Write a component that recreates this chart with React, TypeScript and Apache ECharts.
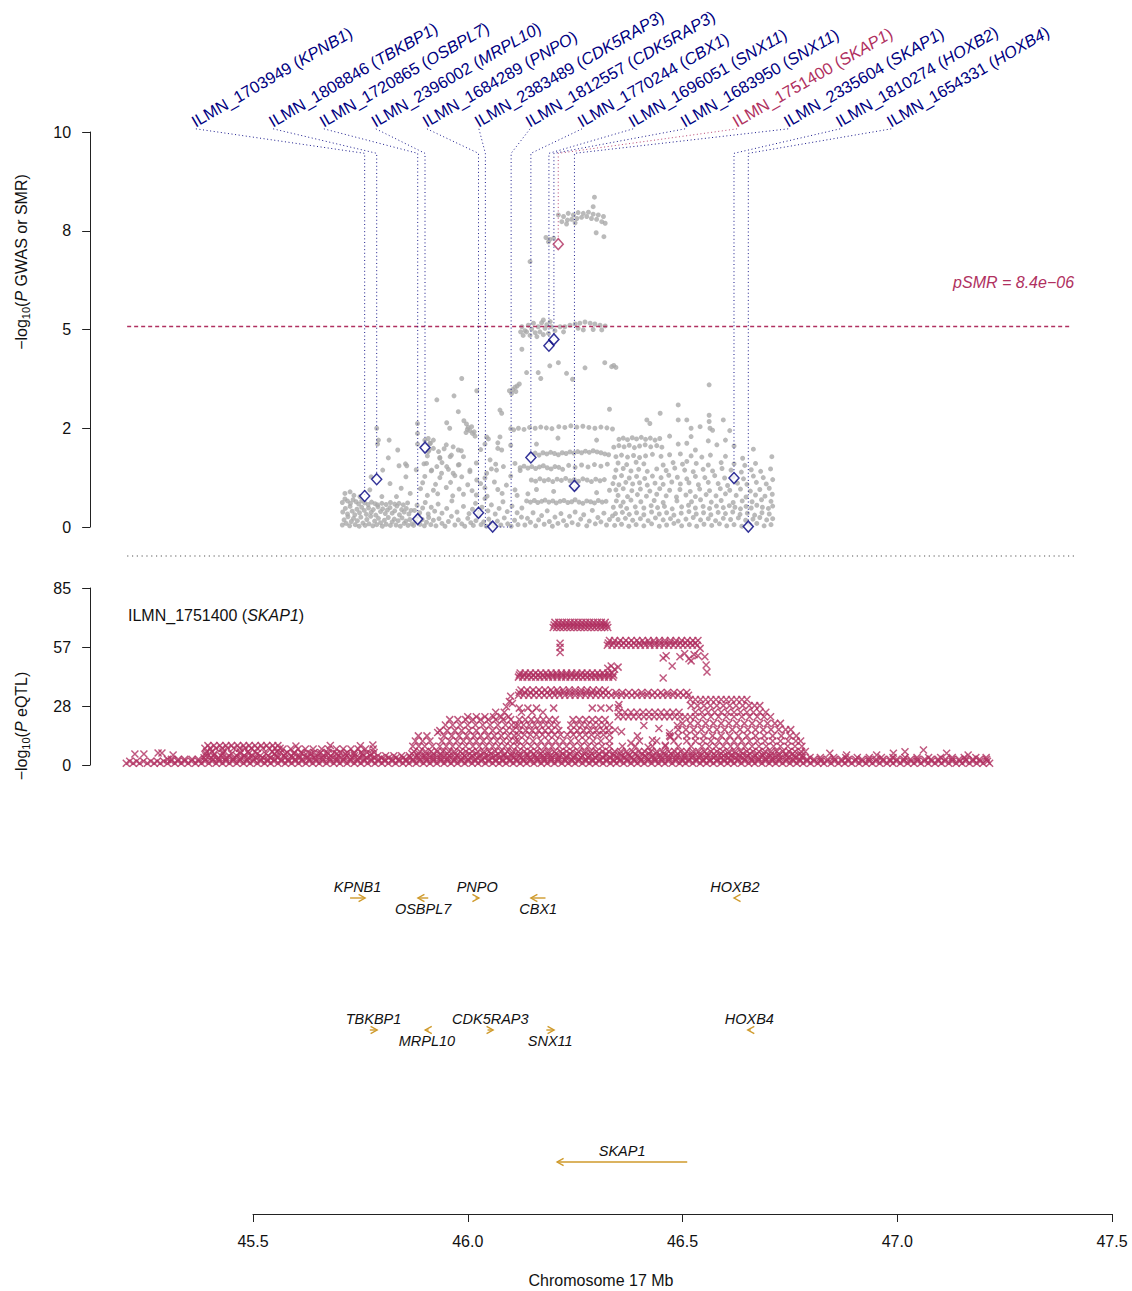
import React, { useEffect, useRef } from 'react';
import * as echarts from 'echarts';

const MAROON = '#B03060';
const NAVY = '#000080';
const GRAY = '#A9A9A9';
const GOLD = '#CF9A2B';
const FF = '"Liberation Sans", Arial, Helvetica, sans-serif';

// ---------- axis tick labels ----------
const gwasTickLabels = ['0', '2', '5', '8', '10'];
const eqtlTickLabels = ['0', '28', '57', '85'];

// ---------- SMR threshold ----------
const pSmrText = 'pSMR = 8.4e\u221206';
const smrThreshold = 5.076; // -log10(8.4e-06)
const plotExtent = [45.207, 47.407];

// ---------- probes (top labels + connectors) ----------
const probeIds = ['ILMN_1703949', 'ILMN_1808846', 'ILMN_1720865', 'ILMN_2396002', 'ILMN_1684289', 'ILMN_2383489', 'ILMN_1812557', 'ILMN_1770244', 'ILMN_1696051', 'ILMN_1683950', 'ILMN_1751400', 'ILMN_2335604', 'ILMN_1810274', 'ILMN_1654331'];
const probeGenes = ['KPNB1', 'TBKBP1', 'OSBPL7', 'MRPL10', 'PNPO', 'CDK5RAP3', 'CDK5RAP3', 'CBX1', 'SNX11', 'SNX11', 'SKAP1', 'SKAP1', 'HOXB2', 'HOXB4'];
const probeLabelX = [45.367, 45.547, 45.665, 45.786, 45.905, 46.026, 46.145, 46.266, 46.385, 46.506, 46.627, 46.746, 46.867, 46.986];
const probeLineX = [45.760, 45.788, 45.8835, 45.9005, 46.025, 46.041, 46.101, 46.147, 46.189, 46.2006, 46.2107, 46.2484, 46.6199, 46.6532];
const probeLineEnd = [0.785, 1.21, 0.2, 2.01, 0.36, 0, 0, 1.76, 4.59, 4.75, 7.16, 1.04, 1.24, 0.01];
const hitProbe = 10;
const connectorTop = 10.08;
const connectorBend = 9.46;
const baseLink = [[46.041, 0], [46.101, 0]];

// ---------- SMR diamonds ----------
const smrX = [45.760, 45.788, 45.8835, 45.9005, 46.025, 46.058, 46.147, 46.189, 46.2006, 46.2107, 46.2484, 46.6199, 46.6532];
const smrY = [0.785, 1.21, 0.2, 2.01, 0.36, 0.01, 1.76, 4.59, 4.75, 7.16, 1.04, 1.24, 0.01];
const smrHit = 9;

// ---------- GWAS points [Mb, -log10 P] ----------
const gwasLeft: [number, number][] = [
  [45.708, 0.05], [45.712, 0.18], [45.717, 0.09], [45.721, 0.26], [45.725, 0.03], [45.729, 0.14], [45.734, 0.22], [45.738, 0.06], [45.743, 0.16], [45.747, 0.02], [45.751, 0.25], [45.756, 0.1], [45.761, 0.04], [45.765, 0.19], [45.77, 0.08], [45.774, 0.27], [45.779, 0.03], [45.783, 0.15], [45.788, 0.06], [45.792, 0.22], [45.797, 0.11], [45.801, 0.02], [45.806, 0.17], [45.81, 0.07], [45.815, 0.24], [45.82, 0.04], [45.824, 0.13], [45.829, 0.2], [45.833, 0.05], [45.838, 0.16], [45.843, 0.02], [45.847, 0.23], [45.852, 0.09], [45.856, 0.15], [45.861, 0.04], [45.865, 0.19], [45.87, 0.08],
  [45.709, 0.38], [45.715, 0.47], [45.72, 0.33], [45.726, 0.52], [45.731, 0.4], [45.737, 0.31], [45.742, 0.45], [45.748, 0.36], [45.753, 0.5], [45.759, 0.42], [45.764, 0.32], [45.769, 0.48], [45.775, 0.37], [45.78, 0.44], [45.786, 0.3], [45.791, 0.51], [45.797, 0.39], [45.802, 0.46], [45.808, 0.34], [45.813, 0.43], [45.819, 0.49], [45.824, 0.35], [45.83, 0.41], [45.835, 0.53], [45.841, 0.31], [45.846, 0.44], [45.852, 0.38], [45.857, 0.47], [45.863, 0.33], [45.868, 0.42],
  [45.708, 0.62], [45.714, 0.71], [45.72, 0.66], [45.727, 0.6], [45.733, 0.69], [45.74, 0.64], [45.746, 0.58], [45.753, 0.66], [45.76, 0.61], [45.768, 0.57], [45.776, 0.63], [45.784, 0.59], [45.79, 0.56], [45.8, 0.6], [45.81, 0.57], [45.82, 0.62], [45.83, 0.58], [45.84, 0.6], [45.85, 0.56], [45.86, 0.61],
  [45.714, 0.85], [45.726, 0.89], [45.749, 0.77], [45.772, 0.94], [45.8, 0.77], [45.819, 1.1], [45.834, 0.77], [45.866, 0.85], [45.815, 1.75], [45.84, 1.55], [45.858, 1.55], [45.856, 1.27], [45.788, 2.5], [45.817, 2.2], [45.792, 2.2], [45.775, 1.27], [45.802, 1.44], [45.837, 1.95], [45.855, 1.6], [45.79, 2.1], [45.845, 0.98], [45.735, 0.8],
];

const gwasMiddle: [number, number][] = [
  [45.874, 0.04], [45.879, 0.15], [45.884, 0.26], [45.889, 0.07], [45.894, 0.19], [45.899, 0.03], [45.904, 0.12], [45.909, 0.24], [45.914, 0.06], [45.92, 0.17], [45.926, 0.03], [45.933, 0.21], [45.94, 0.09], [45.947, 0.02], [45.955, 0.14], [45.962, 0.27], [45.97, 0.05], [45.978, 0.18], [45.986, 0.08], [45.993, 0.02], [46.0, 0.22], [46.007, 0.11], [46.013, 0.04], [46.019, 0.16], [46.025, 0.28], [46.031, 0.06], [46.037, 0.13], [46.043, 0.02], [46.049, 0.2], [46.055, 0.09], [46.062, 0.03], [46.069, 0.15], [46.077, 0.05], [46.085, 0.23], [46.093, 0.08], [46.101, 0.02], [46.109, 0.17], [46.117, 0.06], [46.125, 0.25],
  [45.876, 0.42], [45.882, 0.55], [45.888, 0.36], [45.895, 0.48], [45.901, 0.62], [45.908, 0.33], [45.915, 0.5], [45.923, 0.4], [45.931, 0.58], [45.94, 0.35], [45.951, 0.47], [45.963, 0.66], [45.975, 0.38], [45.99, 0.52], [46.003, 0.34], [46.011, 0.45], [46.018, 0.6], [46.026, 0.37], [46.033, 0.5], [46.04, 0.72], [46.047, 0.41], [46.055, 0.56], [46.064, 0.33], [46.073, 0.47], [46.082, 0.64], [46.092, 0.39], [46.103, 0.53], [46.115, 0.36], [46.126, 0.48],
  [45.906, 0.8], [45.93, 0.84], [45.965, 0.79], [45.99, 0.83], [46.02, 0.81], [46.045, 0.78], [46.08, 0.85], [46.115, 0.8], [45.89, 0.97], [45.92, 0.93], [45.95, 1.0], [45.98, 0.96], [46.01, 0.92], [46.04, 0.99], [46.07, 0.95], [46.11, 0.94], [45.895, 1.12], [45.925, 1.08], [45.96, 1.13], [46.0, 1.07], [46.03, 1.1], [46.062, 1.14], [46.09, 1.06],
  [45.9, 1.28], [45.935, 1.25], [45.97, 1.3], [46.04, 1.24], [46.1, 1.29], [45.88, 1.45], [45.915, 1.42], [45.955, 1.46], [46.005, 1.4], [46.055, 1.47], [46.122, 1.43], [45.898, 1.6], [45.94, 1.63], [45.98, 1.58], [46.02, 1.62], [46.065, 1.59], [46.11, 1.61], [45.906, 1.8], [45.935, 1.76], [45.962, 1.82], [45.91, 1.95], [45.945, 1.98], [45.985, 1.93], [46.03, 1.96], [46.07, 1.99], [45.913, 2.12], [45.95, 2.08], [46.04, 2.1], [46.07, 2.13], [46.1, 2.07], [45.908, 2.24], [45.92, 2.2], [46.048, 2.23], [45.958, 2.5],
  [45.986, 3.76], [45.928, 3.22], [45.968, 3.32], [46.021, 3.45], [45.978, 2.92], [46.075, 2.96], [46.079, 2.88], [45.951, 2.64], [45.883, 2.62], [45.883, 2.37], [45.883, 2.1],
  [45.991, 2.69], [45.997, 2.61], [46.001, 2.52], [46.005, 2.44], [46.011, 2.37], [46.017, 2.30], [45.999, 2.47], [46.009, 2.54], [46.015, 2.41], [45.996, 2.39],
  [45.9, 2.2], [45.912, 2.12], [45.92, 1.99], [45.932, 1.91], [45.908, 1.91], [45.935, 1.74], [45.966, 2.03], [45.978, 1.95], [45.959, 1.78], [45.99, 1.78], [45.978, 1.57], [45.951, 1.53], [45.928, 1.53], [45.904, 1.61], [45.916, 1.44], [45.939, 1.36], [45.966, 1.36], [45.986, 1.27], [46.005, 1.44], [46.021, 1.19], [46.044, 1.36], [46.067, 1.44], [46.083, 1.53], [46.052, 1.70], [46.079, 1.95], [46.044, 2.28], [46.075, 2.28],
];

const gwasCore: [number, number][] = [
  [46.133, 0.05], [46.139, 0.22], [46.146, 0.12], [46.152, 0.36], [46.158, 0.03], [46.165, 0.18], [46.172, 0.29], [46.178, 0.07], [46.185, 0.41], [46.19, 0.14], [46.197, 0.02], [46.203, 0.25], [46.21, 0.09], [46.217, 0.34], [46.223, 0.16], [46.23, 0.04], [46.237, 0.27], [46.243, 0.11], [46.25, 0.38], [46.257, 0.06], [46.263, 0.2], [46.27, 0.31], [46.277, 0.03], [46.283, 0.15], [46.29, 0.42], [46.297, 0.08], [46.303, 0.24], [46.31, 0.13], [46.317, 0.35], [46.323, 0.05], [46.33, 0.19], [46.337, 0.28],
  [46.137, 0.66], [46.146, 0.63], [46.155, 0.67], [46.163, 0.62], [46.172, 0.65], [46.18, 0.68], [46.189, 0.63], [46.198, 0.66], [46.206, 0.61], [46.215, 0.65], [46.224, 0.67], [46.233, 0.62], [46.242, 0.64], [46.25, 0.69], [46.259, 0.63], [46.268, 0.6], [46.277, 0.66], [46.286, 0.64], [46.295, 0.61], [46.304, 0.67], [46.313, 0.63], [46.322, 0.65],
  [46.14, 0.84], [46.16, 0.95], [46.2, 0.9], [46.25, 0.97], [46.3, 0.87], [46.33, 0.93],
  [46.148, 1.19], [46.158, 1.16], [46.168, 1.22], [46.178, 1.17], [46.188, 1.2], [46.198, 1.15], [46.208, 1.21], [46.218, 1.18], [46.228, 1.23], [46.238, 1.17], [46.248, 1.2], [46.258, 1.16], [46.268, 1.22], [46.278, 1.19], [46.288, 1.15], [46.298, 1.21], [46.308, 1.17], [46.318, 1.2],
  [46.122, 1.5], [46.131, 1.54], [46.14, 1.49], [46.149, 1.53], [46.158, 1.48], [46.167, 1.52], [46.176, 1.55], [46.185, 1.5], [46.194, 1.47], [46.203, 1.53], [46.212, 1.51], [46.221, 1.46], [46.235, 1.56], [46.25, 1.51], [46.265, 1.57], [46.28, 1.52], [46.295, 1.58], [46.31, 1.54], [46.325, 1.59],
  [46.148, 1.84], [46.157, 1.87], [46.166, 1.82], [46.175, 1.88], [46.184, 1.85], [46.193, 1.89], [46.202, 1.86], [46.211, 1.83], [46.22, 1.88], [46.229, 1.86], [46.238, 1.9], [46.247, 1.87], [46.256, 1.91], [46.265, 1.88], [46.274, 1.92], [46.283, 1.89], [46.292, 1.93], [46.301, 1.9], [46.31, 1.88], [46.319, 1.85], [46.328, 1.83],
  [46.1, 2.49], [46.107, 2.46], [46.118, 2.5], [46.131, 2.47], [46.144, 2.52], [46.157, 2.5], [46.17, 2.53], [46.183, 2.51], [46.196, 2.49], [46.212, 2.54], [46.226, 2.52], [46.24, 2.56], [46.254, 2.53], [46.268, 2.55], [46.282, 2.52], [46.296, 2.5], [46.31, 2.53], [46.324, 2.51], [46.337, 2.48],
  [46.16, 2.1], [46.21, 2.25], [46.3, 2.2],
  [46.126, 5.07], [46.133, 4.97], [46.141, 5.11], [46.149, 5.01], [46.157, 4.92], [46.164, 5.07], [46.172, 5.17], [46.180, 5.03], [46.188, 4.90], [46.195, 5.07], [46.203, 4.97], [46.129, 4.85], [46.145, 4.85], [46.161, 4.82], [46.176, 4.87], [46.137, 4.94], [46.153, 5.16], [46.168, 4.94], [46.184, 5.12], [46.123, 4.94], [46.192, 5.20], [46.176, 5.24],
  [46.226, 5.07], [46.238, 5.11], [46.250, 5.14], [46.261, 5.16], [46.273, 5.19], [46.285, 5.16], [46.296, 5.14], [46.308, 5.11], [46.320, 5.09], [46.269, 4.99], [46.292, 5.00], [46.312, 4.99], [46.223, 4.94], [46.257, 5.03], [46.215, 5.07],
  [46.126, 4.5], [46.211, 4.16], [46.191, 4.08], [46.137, 3.91], [46.164, 3.91], [46.170, 3.76], [46.230, 3.89], [46.244, 3.74], [46.273, 4.03], [46.319, 4.16], [46.335, 4.06], [46.340, 4.09], [46.345, 4.04], [46.145, 6.72],
  [46.097, 3.45], [46.105, 3.48], [46.110, 3.54], [46.115, 3.57], [46.120, 3.62], [46.102, 3.38], [46.112, 3.43],
  [46.211, 7.90], [46.223, 7.86], [46.234, 7.94], [46.246, 7.90], [46.257, 7.96], [46.269, 7.94], [46.281, 7.97], [46.292, 7.92], [46.304, 7.90], [46.316, 7.86], [46.320, 7.69], [46.219, 7.73], [46.232, 7.77], [46.242, 7.79], [46.254, 7.81], [46.265, 7.84], [46.277, 7.86], [46.288, 7.81], [46.300, 7.79], [46.312, 7.73], [46.230, 7.67], [46.250, 7.70],
  [46.295, 8.35], [46.292, 8.11], [46.299, 7.45], [46.317, 7.35], [46.182, 7.33], [46.191, 7.28], [46.200, 7.31], [46.188, 7.22],
];

const gwasRight: [number, number][] = [
  [46.352, 2.22], [46.362, 2.25], [46.372, 2.21], [46.383, 2.26], [46.393, 2.23], [46.404, 2.27], [46.414, 2.22], [46.425, 2.25], [46.436, 2.2], [46.447, 2.24],
  [46.34, 2.02], [46.352, 2.06], [46.364, 2.03], [46.376, 2.07], [46.388, 2.01], [46.4, 2.05], [46.413, 2.08], [46.426, 2.03], [46.44, 2.06], [46.452, 2.02], [46.49, 2.1], [46.51, 2.12], [46.58, 2.08], [46.62, 2.05],
  [46.345, 1.78], [46.358, 1.82], [46.372, 1.77], [46.386, 1.81], [46.4, 1.76], [46.414, 1.8], [46.43, 1.84], [46.45, 1.79], [46.47, 1.83], [46.495, 1.85], [46.52, 1.8], [46.545, 1.77], [46.565, 1.82], [46.6, 1.79], [46.64, 1.74],
  [46.35, 1.62], [46.37, 1.58], [46.392, 1.64], [46.41, 1.6], [46.455, 1.57], [46.478, 1.63], [46.5, 1.59], [46.51, 1.66], [46.532, 1.61], [46.56, 1.57], [46.59, 1.63], [46.62, 1.6], [46.645, 1.56], [46.67, 1.61],
  [46.345, 1.44], [46.362, 1.48], [46.38, 1.42], [46.398, 1.46], [46.418, 1.41], [46.44, 1.47], [46.462, 1.43], [46.482, 1.49], [46.505, 1.44], [46.525, 1.4], [46.548, 1.46], [46.57, 1.42], [46.592, 1.48], [46.613, 1.44], [46.637, 1.39], [46.66, 1.45], [46.682, 1.41], [46.705, 1.47],
  [46.342, 1.26], [46.358, 1.3], [46.376, 1.24], [46.393, 1.28], [46.412, 1.23], [46.43, 1.29], [46.45, 1.25], [46.468, 1.31], [46.488, 1.26], [46.51, 1.22], [46.53, 1.28], [46.552, 1.25], [46.575, 1.3], [46.598, 1.24], [46.618, 1.27], [46.642, 1.22], [46.665, 1.29], [46.688, 1.25], [46.71, 1.2],
  [46.338, 1.1], [46.352, 1.07], [46.368, 1.13], [46.384, 1.09], [46.4, 1.12], [46.418, 1.06], [46.436, 1.11], [46.455, 1.08], [46.475, 1.14], [46.495, 1.09], [46.515, 1.12], [46.537, 1.07], [46.56, 1.13], [46.583, 1.1], [46.605, 1.05], [46.628, 1.11], [46.65, 1.08], [46.672, 1.13], [46.695, 1.09],
  [46.345, 0.94], [46.362, 0.97], [46.382, 0.92], [46.402, 0.96], [46.424, 0.91], [46.447, 0.97], [46.47, 0.93], [46.494, 0.95], [46.518, 0.9], [46.54, 0.96], [46.563, 0.92], [46.588, 0.97], [46.61, 0.93], [46.635, 0.96], [46.658, 0.91], [46.68, 0.95], [46.702, 0.98],
  [46.35, 0.8], [46.372, 0.77], [46.395, 0.82], [46.416, 0.78], [46.44, 0.83], [46.462, 0.79], [46.486, 0.76], [46.508, 0.81], [46.53, 0.77], [46.555, 0.82], [46.578, 0.79], [46.6, 0.84], [46.625, 0.8], [46.648, 0.76], [46.67, 0.81], [46.692, 0.78], [46.709, 0.83],
  [46.346, 0.66], [46.362, 0.63], [46.38, 0.68], [46.403, 0.64], [46.434, 0.67], [46.455, 0.62], [46.487, 0.66], [46.521, 0.64], [46.542, 0.69], [46.567, 0.63], [46.59, 0.67], [46.618, 0.62], [46.639, 0.66], [46.662, 0.64], [46.684, 0.69], [46.706, 0.65],
  [46.339, 0.5], [46.356, 0.53], [46.37, 0.47], [46.39, 0.51], [46.41, 0.48], [46.427, 0.54], [46.442, 0.49], [46.458, 0.52], [46.476, 0.46], [46.498, 0.51], [46.514, 0.55], [46.53, 0.48], [46.548, 0.52], [46.563, 0.47], [46.579, 0.53], [46.595, 0.49], [46.609, 0.54], [46.622, 0.5], [46.635, 0.46], [46.648, 0.52], [46.66, 0.48], [46.673, 0.55], [46.686, 0.5], [46.7, 0.47], [46.71, 0.53],
  [46.344, 0.34], [46.36, 0.37], [46.376, 0.32], [46.393, 0.36], [46.41, 0.31], [46.428, 0.38], [46.446, 0.33], [46.463, 0.36], [46.48, 0.3], [46.497, 0.35], [46.515, 0.39], [46.532, 0.33], [46.549, 0.36], [46.566, 0.31], [46.583, 0.37], [46.6, 0.34], [46.617, 0.38], [46.634, 0.32], [46.651, 0.35], [46.668, 0.3], [46.685, 0.36], [46.702, 0.33],
  [46.35, 0.19], [46.367, 0.22], [46.384, 0.17], [46.402, 0.21], [46.42, 0.16], [46.437, 0.23], [46.455, 0.18], [46.472, 0.21], [46.49, 0.15], [46.508, 0.2], [46.525, 0.24], [46.542, 0.18], [46.56, 0.21], [46.577, 0.16], [46.595, 0.22], [46.612, 0.19], [46.63, 0.23], [46.647, 0.17], [46.664, 0.2], [46.68, 0.24], [46.696, 0.18], [46.71, 0.21],
  [46.342, 0.04], [46.358, 0.07], [46.375, 0.02], [46.392, 0.06], [46.41, 0.03], [46.428, 0.08], [46.446, 0.02], [46.463, 0.05], [46.48, 0.09], [46.498, 0.03], [46.516, 0.06], [46.533, 0.02], [46.55, 0.07], [46.568, 0.04], [46.586, 0.08], [46.603, 0.03], [46.62, 0.06], [46.638, 0.02], [46.656, 0.05], [46.673, 0.09], [46.69, 0.03], [46.706, 0.06],
  [46.33, 2.98], [46.448, 2.88], [46.49, 3.09], [46.562, 3.6], [46.562, 2.83], [46.562, 2.67], [46.595, 2.71], [46.541, 2.54], [46.564, 2.5], [46.417, 2.71], [46.424, 2.62], [46.51, 2.71], [46.49, 2.71], [46.665, 1.97], [46.708, 1.78], [46.61, 2.44], [46.52, 2.5], [46.57, 2.45], [46.6, 2.2], [46.56, 2.18], [46.53, 1.95], [46.47, 2.3], [46.52, 2.29],
];

// ---------- eQTL points: rows [value, positions(Mb)] ----------
const eqtlRows: [number, number[]][] = [
  [0.8, [45.205, 45.221, 45.236, 45.254, 45.270, 45.284, 45.301, 45.318, 45.333, 45.349, 45.366, 45.380, 45.397, 45.414, 45.429, 45.445, 45.462, 45.478, 45.493, 45.510, 45.527, 45.541, 45.558, 45.575, 45.590, 45.606, 45.623, 45.639, 45.654, 45.671, 45.688, 45.702, 45.719, 45.736, 45.751, 45.767, 45.784, 45.800, 45.815, 45.832, 45.849, 45.863, 45.880, 45.897, 45.912, 45.928, 45.945, 45.961, 45.976, 45.993, 46.010, 46.024, 46.041, 46.058, 46.073, 46.089, 46.106, 46.122, 46.137, 46.154, 46.171, 46.185, 46.202, 46.219, 46.234, 46.250, 46.267, 46.283, 46.298, 46.315, 46.332, 46.346, 46.363, 46.380, 46.395, 46.411, 46.428, 46.444, 46.459, 46.476, 46.493, 46.507, 46.524, 46.541, 46.556, 46.572, 46.589, 46.605, 46.620, 46.637, 46.654, 46.668, 46.685, 46.702, 46.717, 46.733, 46.750, 46.766, 46.781, 46.798, 46.815, 46.829, 46.846, 46.863, 46.878, 46.894, 46.911, 46.927, 46.942, 46.959, 46.976, 46.990, 47.007, 47.024, 47.039, 47.055, 47.072, 47.088, 47.103, 47.120, 47.137, 47.151, 47.168, 47.185, 47.200, 47.215]],
  [1.8, [45.213, 45.229, 45.245, 45.262, 45.277, 45.292, 45.309, 45.325, 45.341, 45.357, 45.373, 45.388, 45.405, 45.421, 45.437, 45.453, 45.469, 45.486, 45.501, 45.518, 45.534, 45.549, 45.566, 45.582, 45.598, 45.614, 45.631, 45.647, 45.662, 45.679, 45.695, 45.710, 45.727, 45.743, 45.759, 45.776, 45.792, 45.807, 45.824, 45.840, 45.856, 45.872, 45.888, 45.904, 45.920, 45.937, 45.953, 45.968, 45.985, 46.001, 46.017, 46.032, 46.049, 46.065, 46.081, 46.098, 46.114, 46.130, 46.145, 46.162, 46.178, 46.194, 46.210, 46.227, 46.243, 46.258, 46.275, 46.291, 46.306, 46.323, 46.340, 46.354, 46.371, 46.388, 46.403, 46.419, 46.436, 46.452, 46.467, 46.484, 46.500, 46.515, 46.532, 46.548, 46.564, 46.580, 46.597, 46.612, 46.628, 46.645, 46.662, 46.676, 46.693, 46.709, 46.725, 46.741, 46.758, 46.774, 46.790, 46.806, 46.822, 46.837, 46.854, 46.871, 46.886, 46.902, 46.919, 46.935, 46.950, 46.967, 46.984, 46.998, 47.015, 47.032, 47.047, 47.063, 47.080, 47.096, 47.111, 47.128, 47.145, 47.159, 47.176, 47.193, 47.210]],
  [2.7, [45.301, 45.310, 45.326, 45.341, 45.358, 45.373, 45.389, 45.406, 45.421, 45.437, 45.454, 45.470, 45.486, 45.502, 45.518, 45.534, 45.550, 45.566, 45.582, 45.598, 45.614, 45.631, 45.646, 45.662, 45.679, 45.695, 45.711, 45.727, 45.743, 45.759, 45.775, 45.792, 45.807, 45.824, 45.840, 45.856, 45.872, 45.888, 45.904, 45.920, 45.937, 45.952, 45.969, 45.985, 46.001, 46.017, 46.033, 46.049, 46.065, 46.081, 46.098, 46.113, 46.129, 46.146, 46.162, 46.178, 46.194, 46.210, 46.226, 46.242, 46.259, 46.274, 46.290, 46.307, 46.323, 46.339, 46.355, 46.371, 46.387, 46.403, 46.420, 46.435, 46.451, 46.468, 46.484, 46.500, 46.516, 46.532, 46.548, 46.564, 46.581, 46.596, 46.612, 46.629, 46.645, 46.661, 46.677, 46.693, 46.709, 46.725, 46.742, 46.757, 46.773, 46.790, 46.806, 46.822, 46.838, 46.854, 46.870, 46.886, 46.903, 46.918, 46.934, 46.951, 46.967, 46.983, 46.999, 47.015, 47.031, 47.047, 47.064, 47.079, 47.095, 47.112, 47.128, 47.144, 47.160, 47.176, 47.192, 47.208]],
  [3.5, [45.386, 45.403, 45.420, 45.437, 45.455, 45.472, 45.489, 45.506, 45.523, 45.541, 45.558, 45.575, 45.592, 45.609, 45.627, 45.644, 45.661, 45.678, 45.695, 45.713, 45.730, 45.747, 45.764, 45.781, 45.799, 45.816, 45.833, 45.850, 45.867, 45.885, 45.902, 45.919, 45.936, 45.953, 45.971, 45.988, 46.005, 46.022, 46.039, 46.057, 46.074, 46.091, 46.108, 46.125, 46.143, 46.160, 46.177, 46.194, 46.211, 46.229, 46.246, 46.263, 46.280, 46.297, 46.315, 46.332, 46.349, 46.366, 46.383, 46.401, 46.418, 46.435, 46.452, 46.469, 46.487, 46.504, 46.521, 46.538, 46.555, 46.573, 46.590, 46.607, 46.624, 46.641, 46.659, 46.676, 46.693, 46.710, 46.727, 46.745, 46.762, 46.779]],
  [4.4, [45.390, 45.408, 45.425, 45.444, 45.462, 45.480, 45.499, 45.517, 45.535, 45.553, 45.572, 45.590, 45.608, 45.627, 45.645, 45.663, 45.681, 45.700, 45.718, 45.736, 45.755, 45.773, 45.791, 45.809, 45.828, 45.846, 45.864, 45.883, 45.901, 45.919, 45.937, 45.956, 45.974, 45.992, 46.011, 46.029, 46.047, 46.065, 46.084, 46.102, 46.120, 46.139, 46.157, 46.175, 46.193, 46.212, 46.230, 46.248, 46.267, 46.285, 46.303, 46.321, 46.340, 46.358, 46.376, 46.395, 46.413, 46.431, 46.449, 46.468, 46.486, 46.504, 46.523, 46.541, 46.559, 46.577, 46.596, 46.614, 46.632, 46.651, 46.669, 46.687, 46.705, 46.724, 46.742, 46.760, 46.779]],
  [3.6, [46.797, 46.821, 46.852, 46.880, 46.907, 46.935, 46.963, 46.990, 47.018, 47.046, 47.073, 47.101, 47.128, 47.156, 47.183, 47.207]],
  [5.4, [45.390, 45.410, 45.430, 45.450, 45.470, 45.490, 45.510, 45.530, 45.550, 45.575, 45.595, 45.615, 45.635, 45.655, 45.675, 45.695, 45.715, 45.735, 45.755, 45.775, 45.870, 45.886, 45.903, 45.920, 45.937, 45.953, 45.970, 45.987, 46.004, 46.020, 46.037, 46.054, 46.071, 46.087, 46.104, 46.121, 46.138, 46.154, 46.171, 46.188, 46.205, 46.221, 46.238, 46.255, 46.272, 46.288, 46.305, 46.322, 46.339, 46.355, 46.372, 46.389, 46.406, 46.422, 46.439, 46.456, 46.473, 46.489, 46.506, 46.523, 46.540, 46.556, 46.573, 46.590, 46.607, 46.623, 46.640, 46.657, 46.674, 46.690, 46.707, 46.724, 46.741, 46.757, 46.774]],
  [6.3, [45.392, 45.404, 45.430, 45.470, 45.488, 45.505, 45.545, 45.556]],
  [8.0, [45.388, 45.400, 45.414, 45.428, 45.441, 45.455, 45.469, 45.482, 45.496, 45.510, 45.523, 45.537, 45.551, 45.563]],
  [9.3, [45.395, 45.409, 45.423, 45.437, 45.450, 45.464, 45.478, 45.491, 45.505, 45.519, 45.532, 45.546, 45.558]],
  [6.0, [45.565, 45.580, 45.596, 45.611, 45.627, 45.642, 45.658, 45.673, 45.689, 45.704, 45.720, 45.735, 45.751, 45.766, 45.782]],
  [7.7, [45.570, 45.588, 45.605, 45.622, 45.640, 45.660, 45.676, 45.694, 45.710, 45.728, 45.745, 45.762, 45.780]],
  [6.5, [45.875, 45.888, 45.902, 45.915, 45.929, 45.942, 45.956, 45.969, 45.983, 45.996, 46.010, 46.023, 46.037, 46.050, 46.064, 46.078, 46.092, 46.105, 46.118, 46.132, 46.146, 46.160, 46.174, 46.188, 46.202, 46.216, 46.230, 46.244, 46.258, 46.272, 46.286, 46.300, 46.314, 46.328, 46.342, 46.356, 46.370, 46.384, 46.398, 46.412, 46.426, 46.440, 46.454, 46.468, 46.482, 46.496, 46.510, 46.524, 46.538, 46.552, 46.566, 46.580, 46.594, 46.608, 46.622, 46.636, 46.650, 46.664, 46.678, 46.692, 46.706, 46.720, 46.734, 46.748, 46.762, 46.776, 46.786]],
  [9.0, [45.872, 45.886, 45.900, 45.918, 45.935, 45.950, 45.965, 45.980, 45.995, 46.012, 46.027, 46.042, 46.058, 46.072, 46.087, 46.100, 46.115, 46.130, 46.147, 46.163, 46.180, 46.196, 46.213, 46.230, 46.246, 46.263, 46.280, 46.296, 46.313, 46.330, 46.360, 46.390, 46.430, 46.460, 46.490, 46.520, 46.545, 46.562, 46.578, 46.595, 46.612, 46.628, 46.645, 46.662, 46.678, 46.695, 46.712, 46.728, 46.745, 46.762, 46.778]],
  [11.5, [45.878, 45.895, 45.912, 45.940, 45.958, 45.975, 45.990, 46.005, 46.020, 46.036, 46.052, 46.068, 46.083, 46.098, 46.112, 46.118, 46.135, 46.152, 46.170, 46.188, 46.205, 46.222, 46.240, 46.258, 46.275, 46.292, 46.310, 46.330, 46.400, 46.440, 46.480, 46.510, 46.530, 46.548, 46.566, 46.584, 46.602, 46.620, 46.638, 46.656, 46.674, 46.692, 46.710, 46.728, 46.746, 46.764, 46.775]],
  [14.0, [45.885, 45.905, 45.945, 45.963, 45.980, 45.998, 46.015, 46.030, 46.047, 46.062, 46.078, 46.094, 46.108, 46.470, 46.490, 46.510, 46.530, 46.550, 46.570, 46.590, 46.610, 46.630, 46.650, 46.670, 46.690, 46.710, 46.730, 46.750, 46.765]],
  [14.5, [46.118, 46.132, 46.146, 46.160, 46.174, 46.188, 46.202, 46.216, 46.232, 46.246, 46.260, 46.274, 46.288, 46.302, 46.316, 46.330]],
  [16.5, [45.935, 45.952, 45.970, 45.986, 46.003, 46.020, 46.040, 46.058, 46.075, 46.090, 46.105, 46.120, 46.135, 46.150, 46.165, 46.180, 46.195, 46.212, 46.240, 46.255, 46.270, 46.285, 46.300, 46.315, 46.328]],
  [17.0, [46.490, 46.508, 46.526, 46.544, 46.562, 46.580, 46.598, 46.616, 46.634, 46.652, 46.670, 46.688, 46.706, 46.724, 46.740, 46.752]],
  [19.2, [45.948, 45.965, 45.982, 46.000, 46.018, 46.035, 46.052, 46.070, 46.088, 46.102, 46.112, 46.118, 46.130, 46.143, 46.156, 46.169, 46.182, 46.195, 46.208, 46.240, 46.253, 46.266, 46.279, 46.292, 46.305, 46.318, 46.330]],
  [20.0, [46.500, 46.518, 46.536, 46.554, 46.572, 46.590, 46.608, 46.626, 46.644, 46.662, 46.680, 46.698, 46.715, 46.728]],
  [21.8, [45.958, 45.977, 45.995, 46.012, 46.030, 46.048, 46.065, 46.082, 46.100, 46.120, 46.134, 46.148, 46.162, 46.176, 46.190, 46.204, 46.245, 46.260, 46.275, 46.290, 46.305, 46.320]],
  [23.2, [46.000, 46.020, 46.040, 46.060, 46.078, 46.095, 46.350, 46.362, 46.374, 46.386, 46.398, 46.410, 46.422, 46.434, 46.446, 46.458, 46.470, 46.482, 46.494, 46.506, 46.518, 46.530, 46.548, 46.566, 46.584, 46.602, 46.620, 46.638, 46.656, 46.674, 46.690, 46.705]],
  [25.3, [46.065, 46.085, 46.125, 46.150, 46.175, 46.352, 46.366, 46.380, 46.394, 46.408, 46.422, 46.436, 46.450, 46.464, 46.478, 46.492, 46.530, 46.545, 46.560, 46.575, 46.590, 46.605, 46.620, 46.635, 46.650, 46.665, 46.680, 46.694]],
  [27.3, [46.120, 46.140, 46.160, 46.200, 46.290, 46.310, 46.330]],
  [28.5, [46.520, 46.535, 46.550, 46.565, 46.580, 46.595, 46.610, 46.625, 46.640, 46.655, 46.668, 46.680]],
  [31.5, [46.518, 46.530, 46.542, 46.554, 46.566, 46.578, 46.590, 46.602, 46.614, 46.626, 46.638, 46.650]],
  [33.5, [46.118, 46.130, 46.142, 46.154, 46.166, 46.178, 46.190, 46.202, 46.214, 46.226, 46.238, 46.250, 46.262, 46.274, 46.286, 46.298, 46.310, 46.322, 46.334, 46.346, 46.358, 46.370, 46.382, 46.394, 46.406, 46.418, 46.430, 46.442, 46.454, 46.466, 46.478, 46.490, 46.502, 46.514]],
  [34.8, [46.120, 46.133, 46.146, 46.159, 46.172, 46.185, 46.198, 46.211, 46.224, 46.237, 46.250, 46.263, 46.276, 46.289, 46.302, 46.315, 46.328, 46.345, 46.360, 46.375, 46.390, 46.405, 46.420, 46.435, 46.450, 46.465, 46.480, 46.495, 46.510]],
  [36.0, [46.124, 46.138, 46.152, 46.166, 46.180, 46.194, 46.208, 46.222, 46.236, 46.250, 46.264, 46.278, 46.292, 46.306, 46.320]],
  [42.2, [46.118, 46.128, 46.138, 46.148, 46.158, 46.168, 46.178, 46.188, 46.198, 46.208, 46.218, 46.228, 46.238, 46.248, 46.258, 46.268, 46.278, 46.288, 46.298, 46.308, 46.318, 46.328, 46.338]],
  [43.2, [46.120, 46.131, 46.142, 46.153, 46.164, 46.175, 46.186, 46.197, 46.208, 46.219, 46.230, 46.241, 46.252, 46.263, 46.274, 46.285, 46.296, 46.307, 46.318, 46.329, 46.340]],
  [44.2, [46.122, 46.134, 46.146, 46.158, 46.170, 46.182, 46.194, 46.206, 46.218, 46.230, 46.242, 46.254, 46.266, 46.278, 46.290, 46.302, 46.314, 46.326, 46.336]],
  [57.5, [46.325, 46.336, 46.347, 46.358, 46.369, 46.380, 46.391, 46.402, 46.413, 46.424, 46.435, 46.446, 46.457, 46.468, 46.479, 46.490, 46.501, 46.512, 46.523, 46.534]],
  [58.6, [46.327, 46.339, 46.351, 46.363, 46.375, 46.387, 46.399, 46.411, 46.423, 46.435, 46.447, 46.459, 46.471, 46.483, 46.495, 46.507, 46.519, 46.530]],
  [59.8, [46.330, 46.342, 46.355, 46.368, 46.381, 46.394, 46.407, 46.420, 46.433, 46.446, 46.459, 46.472, 46.485, 46.498, 46.511, 46.524, 46.536]],
  [66.0, [46.199, 46.207, 46.215, 46.223, 46.231, 46.239, 46.247, 46.255, 46.263, 46.271, 46.279, 46.287, 46.295, 46.303, 46.311, 46.319, 46.326]],
  [67.2, [46.201, 46.210, 46.219, 46.228, 46.237, 46.246, 46.255, 46.264, 46.273, 46.282, 46.291, 46.300, 46.309, 46.318, 46.324]],
  [68.5, [46.203, 46.212, 46.221, 46.230, 46.239, 46.248, 46.257, 46.266, 46.275, 46.284, 46.293, 46.302, 46.311, 46.320]],
];

// ---------- eQTL individual points [Mb, -log10 P] ----------
const eqtlScatter: [number, number][] = [
  [45.225, 5.3], [45.246, 5.3], [45.279, 5.8], [45.288, 5.8], [45.314, 4.8],
  [45.600, 9.1], [45.680, 9.4], [45.750, 9.2], [45.779, 9.6], [45.930, 15.6],
  [46.090, 28.0], [46.097, 30.5], [46.100, 33.0], [46.104, 29.5],
  [46.215, 54.0], [46.215, 56.5], [46.215, 58.5],
  [46.326, 46.5], [46.334, 47.5], [46.342, 46.0], [46.350, 47.0], [46.352, 29.0], [46.350, 27.5], [46.343, 16.8],
  [46.494, 52.0], [46.505, 53.5], [46.515, 51.0], [46.527, 53.0], [46.536, 52.5], [46.520, 50.0], [46.455, 51.4], [46.476, 47.5], [46.455, 41.8], [46.541, 56.0], [46.552, 52.0], [46.555, 48.0], [46.557, 44.7], [46.462, 52.5],
  [46.358, 16.0], [46.380, 10.5], [46.395, 14.0], [46.410, 19.0], [46.430, 12.0], [46.445, 17.5], [46.460, 9.5], [46.472, 13.5], [46.488, 19.0], [46.470, 15.5], [46.420, 8.5],
  [46.952, 4.8], [46.991, 5.6], [47.018, 6.4], [47.061, 7.2], [47.115, 5.6], [47.165, 4.8], [46.843, 5.6], [46.882, 4.8],
];

// ---------- genes ----------
const geneNames = ['KPNB1', 'TBKBP1', 'OSBPL7', 'MRPL10', 'PNPO', 'CDK5RAP3', 'CBX1', 'SNX11', 'SKAP1', 'HOXB2', 'HOXB4'];
const geneStart = [45.726, 45.772, 45.884, 45.901, 46.018, 46.046, 46.147, 46.183, 46.208, 46.620, 46.652];
const geneEnd = [45.761, 45.789, 45.908, 45.909, 46.026, 46.059, 46.181, 46.201, 46.511, 46.624, 46.659];
const geneStrand = [1, 1, -1, -1, 1, 1, -1, 1, -1, -1, -1];
const geneRow = [0, 1, 0, 1, 0, 1, 0, 1, 2, 0, 1];
const geneLabelBelow = [0, 0, 1, 1, 0, 0, 1, 1, 0, 0, 0];

const eqtlProbeLabel = ['ILMN_1751400', 'SKAP1'];

export default function App() {
  const ref = useRef<HTMLDivElement>(null);
  useEffect(() => {
    if (!ref.current) return;
    const chart = echarts.init(ref.current, null, { renderer: 'svg' });

    const gwasData: number[][] = [...gwasLeft, ...gwasMiddle, ...gwasCore, ...gwasRight];
    const eqtlData: number[][] = [];
    eqtlRows.forEach(([v, xs]) => xs.forEach((x) => eqtlData.push([x, v])));
    eqtlScatter.forEach((p) => eqtlData.push(p));

    const axisBase = {
      axisLine: { show: true, lineStyle: { color: '#222', width: 1 } },
      axisTick: { show: true, inside: false, length: 8, lineStyle: { color: '#222', width: 1 } },
      splitLine: { show: false },
    };
    const hiddenX = (g: number) => ({ type: 'value', gridIndex: g, min: 45.2, max: 47.5, show: false, splitLine: { show: false } });

    const connectorData: any[] = probeIds.map((_, i) => ({
      coords: [[probeLabelX[i], connectorTop], [probeLineX[i], connectorBend], [probeLineX[i], probeLineEnd[i]]],
      lineStyle: { color: i === hitProbe ? MAROON : NAVY },
    }));
    connectorData.push({ coords: baseLink, lineStyle: { color: NAVY } });

    const option: any = {
      animation: false,
      backgroundColor: '#fff',
      grid: [
        { left: 124.15, right: 20, top: 132, height: 395 },
        { left: 124.15, right: 20, top: 588, height: 177 },
        { left: 253, width: 859, top: 1213, height: 1 },
        { left: 124.15, right: 20, top: 832, height: 396 },
      ],
      xAxis: [
        hiddenX(0),
        hiddenX(1),
        {
          type: 'value', gridIndex: 2, min: 45.5, max: 47.5, interval: 0.5, ...axisBase,
          axisLabel: { show: true, margin: 19, fontSize: 16, fontFamily: FF, color: '#111', formatter: (v: number) => v.toFixed(1) },
        },
        hiddenX(3),
      ],
      yAxis: [
        {
          type: 'value', gridIndex: 0, min: 0, max: 10, interval: 2.5, offset: 34, ...axisBase,
          axisLabel: { margin: 19, fontSize: 16, fontFamily: FF, color: '#111', formatter: (v: number) => gwasTickLabels[Math.round(v / 2.5)] },
        },
        {
          type: 'value', gridIndex: 1, min: 0, max: 85, interval: 85 / 3, offset: 34, ...axisBase,
          axisLabel: { margin: 19, fontSize: 16, fontFamily: FF, color: '#111', formatter: (v: number) => eqtlTickLabels[Math.round(v / (85 / 3))] },
        },
        { type: 'value', gridIndex: 2, show: false, splitLine: { show: false } },
        { type: 'value', gridIndex: 3, min: 0, max: 3, inverse: true, show: false, splitLine: { show: false } },
      ],
      series: [
        {
          type: 'scatter', xAxisIndex: 0, yAxisIndex: 0, data: gwasData, symbol: 'circle', symbolSize: 5,
          itemStyle: { color: GRAY }, silent: true, z: 1, clip: false,
        },
        {
          type: 'line', xAxisIndex: 0, yAxisIndex: 0, data: [[plotExtent[0], smrThreshold], [plotExtent[1], smrThreshold]],
          showSymbol: false, symbol: 'none', lineStyle: { color: MAROON, width: 1.3, type: [4, 3] }, silent: true, z: 2,
        },
        {
          type: 'lines', coordinateSystem: 'cartesian2d', xAxisIndex: 0, yAxisIndex: 0, polyline: true, clip: false,
          data: connectorData, lineStyle: { width: 1, type: [1, 2.6], opacity: 0.9 }, silent: true, z: 3,
        },
        {
          type: 'scatter', xAxisIndex: 0, yAxisIndex: 0, symbol: 'diamond', symbolSize: [10, 11], z: 4, silent: true,
          data: smrX.map((x, i) => ({
            value: [x, smrY[i]],
            itemStyle: { color: '#fff', borderColor: i === smrHit ? MAROON : NAVY, borderWidth: 1.5 },
          })),
        },
        {
          type: 'scatter', xAxisIndex: 1, yAxisIndex: 1, data: eqtlData,
          symbol: 'path://M0,0L10,10M10,0L0,10', symbolSize: 7,
          itemStyle: { color: 'transparent', borderColor: MAROON, borderWidth: 1.5 }, silent: true, clip: false,
        },
        {
          type: 'custom', xAxisIndex: 3, yAxisIndex: 3, silent: true, clip: false,
          data: geneNames.map((_, i) => [geneStart[i], geneEnd[i], geneRow[i], geneStrand[i], geneLabelBelow[i]]),
          renderItem: (params: any, api: any) => {
            const s = api.value(0), e = api.value(1), row = api.value(2), strand = api.value(3), below = api.value(4);
            const p1 = api.coord([s, row + 0.5]);
            const p2 = api.coord([e, row + 0.5]);
            const y = p1[1];
            const head = strand > 0 ? p2[0] : p1[0];
            const tail = strand > 0 ? p1[0] : p2[0];
            const dir = strand > 0 ? 1 : -1;
            const name = geneNames[params.dataIndex];
            return {
              type: 'group',
              children: [
                { type: 'line', shape: { x1: tail, y1: y, x2: head, y2: y }, style: { stroke: GOLD, lineWidth: 1.4 } },
                {
                  type: 'polyline',
                  shape: { points: [[head - dir * 6.5, y - 3.6], [head, y], [head - dir * 6.5, y + 3.6]] },
                  style: { stroke: GOLD, fill: null, lineWidth: 1.4 },
                },
                {
                  type: 'text', x: (p1[0] + p2[0]) / 2, y: below ? y + 10.5 : y - 11,
                  style: {
                    text: name, fontFamily: FF, fontSize: 14.5, fontStyle: 'italic', fill: '#111',
                    align: 'center', verticalAlign: 'middle', textAlign: 'center', textVerticalAlign: 'middle',
                  },
                },
              ],
            };
          },
        },
      ],
    };
    chart.setOption(option);

    const toPx = (g: number, p: number[]) => chart.convertToPixel({ gridIndex: g } as any, p) as unknown as number[];

    const labelEls = probeIds.map((id, i) => {
      const [px, py] = toPx(0, [probeLabelX[i], connectorTop]);
      const color = i === hitProbe ? MAROON : NAVY;
      return {
        type: 'text', x: px + 1, y: py + 1, rotation: Math.PI / 6, silent: true,
        style: {
          text: `{a|${id} (}{b|${probeGenes[i]}}{a|)}`,
          rich: {
            a: { fontFamily: FF, fontSize: 16.5, fill: color, color },
            b: { fontFamily: FF, fontSize: 16.5, fontStyle: 'italic', fill: color, color },
          },
          align: 'left', verticalAlign: 'bottom', textAlign: 'left', textVerticalAlign: 'bottom',
        },
      };
    });

    const thrPx = toPx(0, [plotExtent[1], smrThreshold]);
    const sepL = toPx(1, [plotExtent[0], 0]);
    const sepR = toPx(1, [plotExtent[1], 0]);

    const sub = { fontFamily: FF, fontSize: 11, fill: '#111', verticalAlign: 'bottom', lineHeight: 11 };
    const norm = { fontFamily: FF, fontSize: 16, fill: '#111', verticalAlign: 'middle', lineHeight: 20 };
    const ital = { ...norm, fontStyle: 'italic' };

    chart.setOption({
      graphic: [
        ...labelEls,
        {
          type: 'text', x: thrPx[0] + 2, y: thrPx[1] - 44, silent: true,
          style: { text: pSmrText, fontFamily: FF, fontSize: 16, fontStyle: 'italic', fill: MAROON, align: 'right', verticalAlign: 'middle', textAlign: 'right', textVerticalAlign: 'middle' },
        },
        {
          type: 'line', silent: true,
          shape: { x1: sepL[0], y1: 556, x2: sepR[0] + 3, y2: 556 },
          style: { stroke: '#555', lineWidth: 1.2, lineDash: [1.2, 3.6] },
        },
        {
          type: 'text', x: 128, y: 615, silent: true,
          style: {
            text: `{n|${eqtlProbeLabel[0]} (}{i|${eqtlProbeLabel[1]}}{n|)}`,
            rich: { n: norm, i: ital },
            align: 'left', verticalAlign: 'middle', textAlign: 'left', textVerticalAlign: 'middle',
          },
        },
        {
          type: 'text', x: 21, y: 262, rotation: Math.PI / 2, silent: true,
          style: {
            text: '{n|\u2212log}{s|10}{n|(}{i|P}{n| GWAS or SMR)}',
            rich: { n: norm, s: sub, i: ital },
            align: 'center', verticalAlign: 'middle', textAlign: 'center', textVerticalAlign: 'middle',
          },
        },
        {
          type: 'text', x: 21, y: 726, rotation: Math.PI / 2, silent: true,
          style: {
            text: '{n|\u2212log}{s|10}{n|(}{i|P}{n| eQTL)}',
            rich: { n: norm, s: sub, i: ital },
            align: 'center', verticalAlign: 'middle', textAlign: 'center', textVerticalAlign: 'middle',
          },
        },
        {
          type: 'text', x: 601, y: 1280, silent: true,
          style: { text: 'Chromosome 17 Mb', fontFamily: FF, fontSize: 16, fill: '#111', align: 'center', verticalAlign: 'middle', textAlign: 'center', textVerticalAlign: 'middle' },
        },
      ],
    });

    return () => chart.dispose();
  }, []);

  return (
    <div
      ref={ref}
      style={{ position: 'absolute', left: 0, top: 0, width: 1132, height: 1291, background: '#fff' }}
    />
  );
}
